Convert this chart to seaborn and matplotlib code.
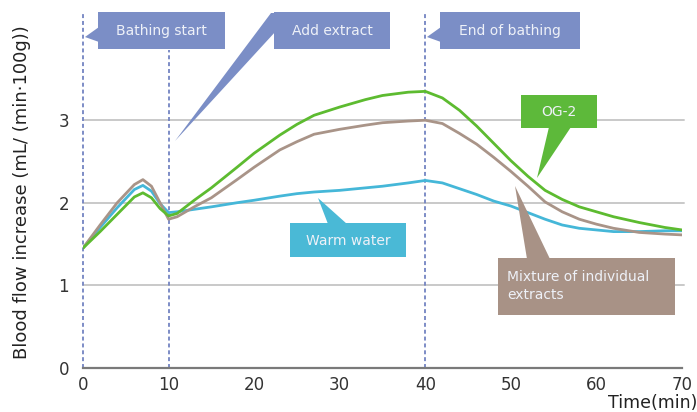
import numpy as np
import pandas as pd
import matplotlib
matplotlib.use("Agg")
import matplotlib.pyplot as plt
import matplotlib.transforms as mtransforms
from matplotlib.patches import Polygon, Rectangle
import seaborn as sns

# ---------------- data ----------------
time_min = [0, 2, 4, 6, 7, 8, 9, 10, 11, 13, 15, 18, 20, 23, 25, 27, 30, 33, 35, 38,
            40, 42, 44, 46, 48, 50, 52, 54, 56, 58, 60, 62, 65, 68, 70]
og2 = [1.45, 1.65, 1.86, 2.07, 2.12, 2.06, 1.93, 1.84, 1.87, 2.03, 2.18, 2.43, 2.60, 2.82,
       2.95, 3.06, 3.16, 3.25, 3.30, 3.34, 3.35, 3.27, 3.12, 2.93, 2.72, 2.51, 2.32, 2.15,
       2.04, 1.95, 1.89, 1.83, 1.76, 1.70, 1.67]
mixture = [1.45, 1.73, 2.00, 2.22, 2.28, 2.20, 2.00, 1.80, 1.83, 1.95, 2.06, 2.28, 2.43,
           2.64, 2.74, 2.83, 2.89, 2.94, 2.97, 2.99, 3.00, 2.96, 2.84, 2.71, 2.55, 2.38,
           2.20, 2.01, 1.89, 1.80, 1.74, 1.69, 1.64, 1.62, 1.61]
warm_water = [1.45, 1.70, 1.94, 2.16, 2.21, 2.14, 1.99, 1.88, 1.89, 1.92, 1.95, 2.00, 2.03,
              2.08, 2.11, 2.13, 2.15, 2.18, 2.20, 2.24, 2.27, 2.24, 2.17, 2.10, 2.02, 1.96,
              1.88, 1.80, 1.73, 1.69, 1.67, 1.65, 1.65, 1.66, 1.66]
series_names = ["Warm water", "Mixture of individual extracts", "OG-2"]
event_times = [0, 10, 40]
x_ticks = [0, 10, 20, 30, 40, 50, 60, 70]
y_ticks = [0, 1, 2, 3]

df = pd.concat([
    pd.DataFrame({"t": time_min, "v": warm_water, "s": series_names[0]}),
    pd.DataFrame({"t": time_min, "v": mixture, "s": series_names[1]}),
    pd.DataFrame({"t": time_min, "v": og2, "s": series_names[2]}),
])

line_colors = {"Warm water": "#45b7d8",
               "Mixture of individual extracts": "#a99488",
               "OG-2": "#5dbb30"}

W, H = 697, 412
sns.set_style("white")
plt.rcParams["font.family"] = ["DejaVu Sans"]
fig = plt.figure(figsize=(W / 100, H / 100), dpi=100)
ax = fig.add_axes([83 / W, (H - 367.7) / H, (682 - 83) / W, (367.7 - 13) / H])

ax.set_xlim(0, 70)
ax.set_ylim(0, 4.3)
for yv in y_ticks[1:]:
    ax.axhline(yv, color="#c9c9c9", lw=1.4, zorder=0, xmax=1.003, clip_on=False)

sns.lineplot(data=df, x="t", y="v", hue="s", palette=line_colors, lw=2.0,
             legend=False, ax=ax, zorder=3)

# event lines
dash_col = "#7384c2"
dash = (0, (2.2, 1.6))
ax.axvline(event_times[0], color=dash_col, lw=1.3, ls=dash, zorder=2, clip_on=False)
ax.axvline(event_times[1], color=dash_col, lw=1.3, ls=dash, ymax=3.85 / 4.3, zorder=2,
           clip_on=False)
ax.axvline(event_times[2], color=dash_col, lw=1.3, ls=dash, zorder=2, clip_on=False)

for s in ["left", "right", "top"]:
    ax.spines[s].set_visible(False)
ax.spines["bottom"].set_color("#7a7a7a")
ax.spines["bottom"].set_linewidth(1.6)
ax.spines["bottom"].set_zorder(4)

ax.set_xticks(x_ticks)
ax.set_yticks(y_ticks)
ax.tick_params(axis="both", length=0, labelsize=12, labelcolor="#333333")
ax.tick_params(axis="x", pad=6)
ax.tick_params(axis="y", pad=10)
ax.set_xlabel("")
ax.set_ylabel("")

# pixel transform (x from left, y from top)
pxT = mtransforms.Affine2D().scale(1 / W, -1 / H).translate(0, 1) + fig.transFigure

fig.text(22, 192, "Blood flow increase (mL/ (min\u00b7100g))", transform=pxT,
         rotation=90, ha="center", va="center", fontsize=13, color="#222222")
fig.text(697, 403, "Time(min)", transform=pxT, ha="right", va="center",
         fontsize=12.5, color="#222222")

blue = "#7b8ec6"
green = "#5db93a"
cyan = "#4ab9d6"
brown = "#a89286"
txtc = "#eef1f8"


def callout(x0, y0, x1, y1, tail, color, text, tx=None, ty=None, ha="center", fs=10):
    fig.patches.append(Rectangle((x0, y0), x1 - x0, y1 - y0, transform=pxT,
                                 facecolor=color, edgecolor="none", zorder=5))
    fig.patches.append(Polygon(tail, closed=True, transform=pxT,
                               facecolor=color, edgecolor="none", zorder=5))
    if tx is None:
        tx = (x0 + x1) / 2
    if ty is None:
        ty = (y0 + y1) / 2
    fig.text(tx, ty, text, transform=pxT, ha=ha, va="center", fontsize=fs,
             color=txtc, zorder=6, linespacing=1.35)


callout(98, 12, 225, 49, [(99, 27), (99, 42), (85, 37)], blue, "Bathing start", ty=31)
callout(274, 12, 390, 49, [(271, 13), (276, 13), (276, 31), (175, 141)], blue,
        "Add extract", ty=31)
callout(440, 12, 580, 49, [(441, 27), (441, 42), (427, 37)], blue, "End of bathing", ty=31)
callout(521, 95, 597, 128, [(549, 127), (571, 127), (537, 178)], green, "OG-2", ty=112)
callout(290, 223, 406, 257, [(328, 224), (347, 224), (318, 198)], cyan, "Warm water", ty=241)
callout(498, 258, 675, 315, [(527, 259), (550, 259), (515, 186)], brown,
        "Mixture of individual\nextracts", tx=507, ty=286, ha="left")

fig.savefig("out.png", dpi=100)
